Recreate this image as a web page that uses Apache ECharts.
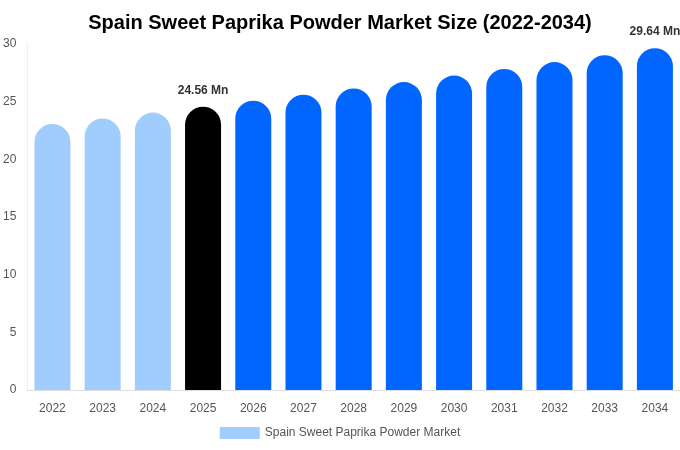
<!DOCTYPE html>
<html>
<head>
	<meta charset="utf-8">
	<title></title>
	<style>
		html, body { margin: 0; padding: 0; background: #fff; }
		#box_1 { width: 680px; height: 450px; }
	</style>
</head>
<body>
	<div id="box_1"></div>
</body>
<script src="https://cdn.jsdelivr.net/npm/echarts@6/dist/echarts.min.js"></script>
<script>
	var years = ['2022','2023','2024','2025','2026','2027','2028','2029','2030','2031','2032','2033','2034']
	var values = [23.07, 23.55, 24.05, 24.56, 25.08, 25.61, 26.15, 26.70, 27.26, 27.84, 28.43, 29.03, 29.64]
	var yTicks = [0, 5, 10, 15, 20, 25, 30]
	var labelYears = ['2025', '2034']

	var myChart = echarts.init(document.getElementById('box_1'));
	var barData = []
	for (var i = 0; i < values.length; i++) {
		var y = parseInt(years[i])
		var c = y < 2025 ? '#a1cdfe' : (y == 2025 ? '#000000' : '#0066ff')
		barData.push({
			value: values[i],
			itemStyle: { color: c },
			label: { show: labelYears.indexOf(years[i]) > -1 }
		})
	}
	var option = {
		textStyle: { fontFamily: 'Liberation Sans, Arial, sans-serif' },
		title: {
			text: 'Spain Sweet Paprika Powder Market Size (2022-2034)',
			left: 'center',
			top: 8,
			textStyle: { fontSize: 20, fontWeight: 'bold', color: '#000' }
		},
		legend: {
			bottom: 6,
			left: 'center',
			itemWidth: 40,
			itemHeight: 12,
			icon: 'rect',
			textStyle: { color: '#555', fontSize: 12 },
			data: ['Spain Sweet Paprika Powder Market']
		},
		grid: {
			left: 27,
			right: 0,
			top: 44,
			bottom: 60,
			containLabel: false
		},
		xAxis: {
			type: 'category',
			data: years,
			axisTick: { show: false },
			axisLine: { show: true, lineStyle: { color: '#dddddd' } },
			axisLabel: { color: '#555', fontSize: 12, margin: 13 }
		},
		yAxis: {
			type: 'value',
			min: yTicks[0],
			max: yTicks[yTicks.length - 1],
			interval: 5,
			axisLine: { show: true, lineStyle: { color: '#eeeeee' } },
			axisTick: { show: false },
			axisLabel: { color: '#555', fontSize: 12, margin: 11 },
			splitLine: { show: false }
		},
		series: [{
			name: 'Spain Sweet Paprika Powder Market',
			type: 'bar',
			data: barData,
			barWidth: 36,
			itemStyle: { color: '#a1cdfe', borderRadius: [18, 18, 0, 0] },
			label: {
				position: 'top',
				distance: 10,
				color: '#333',
				fontWeight: 'bold',
				fontSize: 12,
				formatter: function(p) { return p.value.toFixed(2) + ' Mn' }
			}
		}]
	}
	myChart.setOption(option);
</script>
</html>
